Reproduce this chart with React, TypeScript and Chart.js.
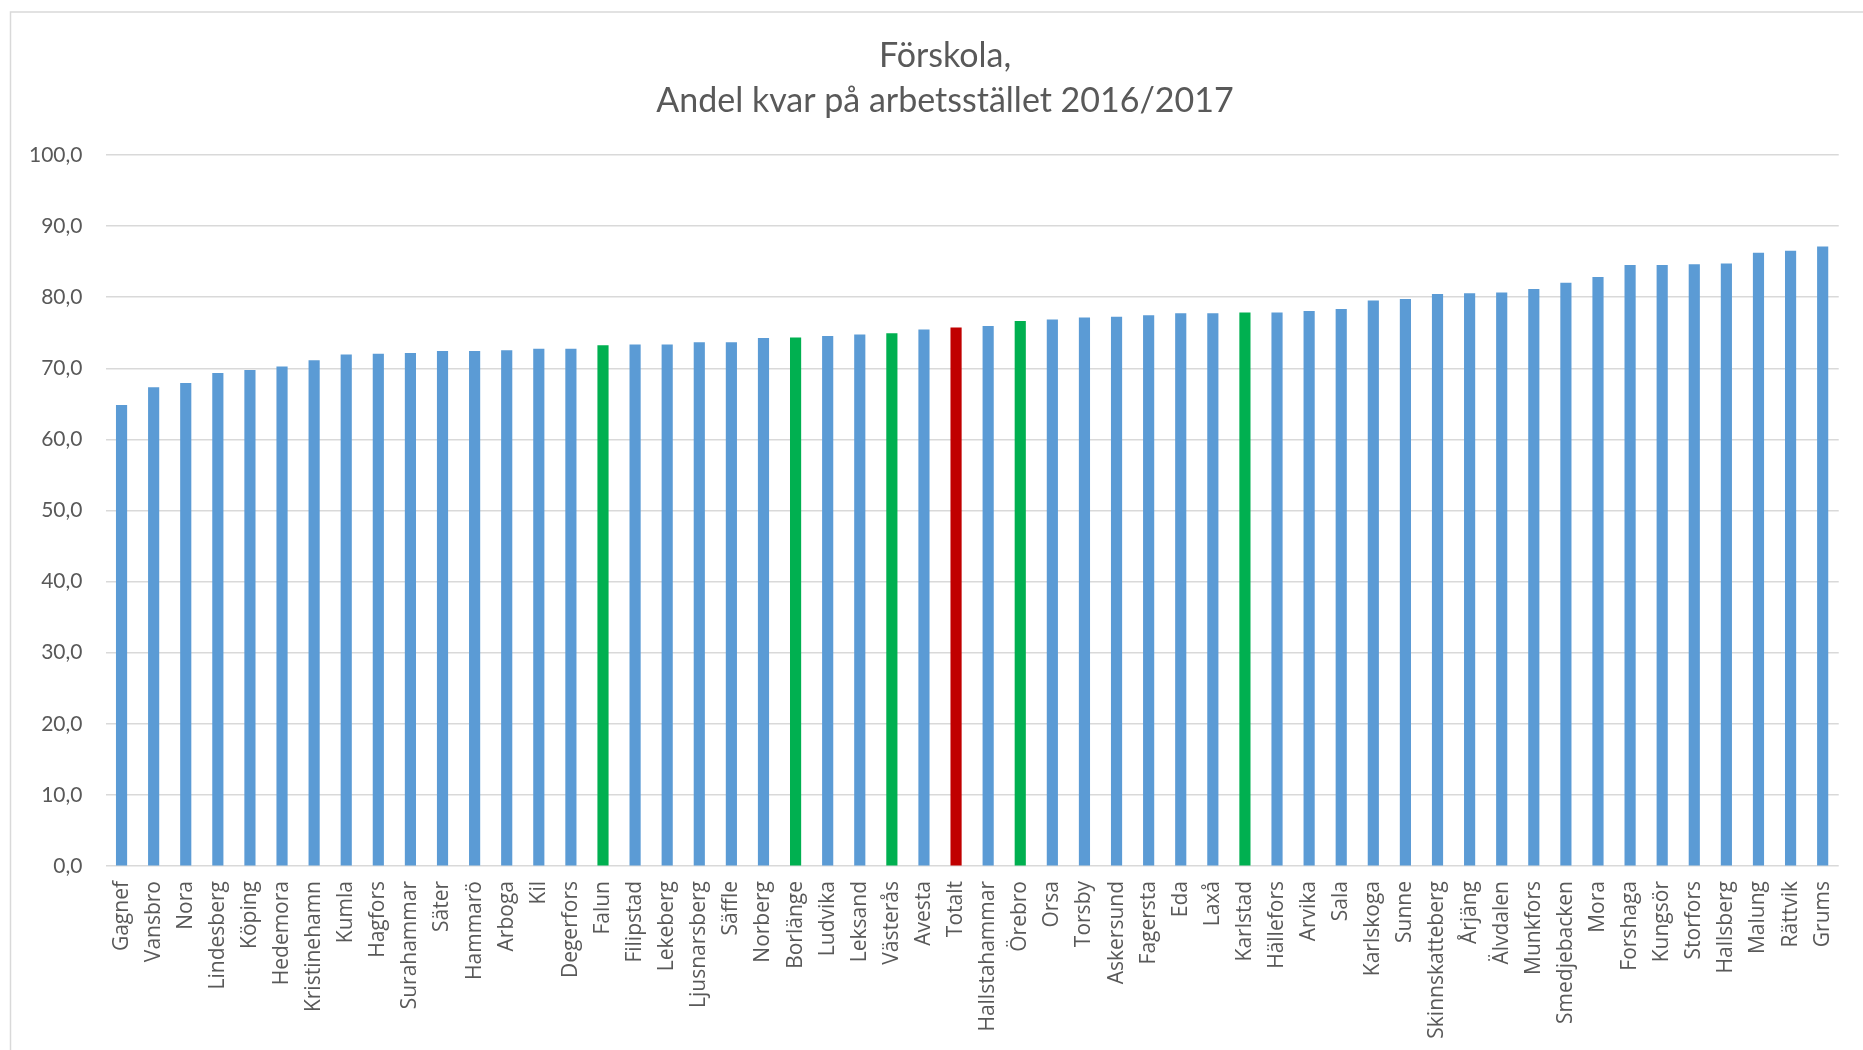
import React, { useEffect, useRef } from 'react';
import { Chart, registerables } from 'chart.js';

Chart.register(...registerables);

// Chart heading, drawn as two centred lines
const titleLines = ['Förskola,', 'Andel kvar på arbetsstället 2016/2017'];

// Municipalities, sorted by share of staff remaining at the workplace
const kommuner = [
  'Gagnef', 'Vansbro', 'Nora', 'Lindesberg', 'Köping', 'Hedemora', 'Kristinehamn', 'Kumla', 'Hagfors',
  'Surahammar', 'Säter', 'Hammarö', 'Arboga', 'Kil', 'Degerfors', 'Falun', 'Filipstad', 'Lekeberg',
  'Ljusnarsberg', 'Säffle', 'Norberg', 'Borlänge', 'Ludvika', 'Leksand', 'Västerås', 'Avesta', 'Totalt',
  'Hallstahammar', 'Örebro', 'Orsa', 'Torsby', 'Askersund', 'Fagersta', 'Eda', 'Laxå', 'Karlstad',
  'Hällefors', 'Arvika', 'Sala', 'Karlskoga', 'Sunne', 'Skinnskatteberg', 'Årjäng', 'Älvdalen', 'Munkfors',
  'Smedjebacken', 'Mora', 'Forshaga', 'Kungsör', 'Storfors', 'Hallsberg', 'Malung', 'Rättvik', 'Grums',
];

// Share (%) remaining at the workplace 2016/2017
const andelKvar = [
  64.8, 67.3, 67.9, 69.3, 69.7, 70.2, 71.1, 71.9, 72.0,
  72.1, 72.4, 72.4, 72.5, 72.7, 72.7, 73.2, 73.3, 73.3,
  73.6, 73.6, 74.2, 74.3, 74.5, 74.7, 74.9, 75.4, 75.7,
  75.9, 76.6, 76.8, 77.1, 77.2, 77.4, 77.7, 77.7, 77.8,
  77.8, 78.0, 78.3, 79.5, 79.7, 80.4, 80.5, 80.6, 81.1,
  82.0, 82.8, 84.5, 84.5, 84.6, 84.7, 86.2, 86.5, 87.1,
];

// Highlighted categories
const markeradeKommuner = ['Falun', 'Borlänge', 'Västerås', 'Örebro', 'Karlstad'];
const totalKategori = 'Totalt';

// Value axis range
const yMin = 0;
const yMax = 100;
const yStep = 10;

const BLUE = '#5b9bd5';
const GREEN = '#00b050';
const RED = '#c00000';
const TEXT = '#595959';
const GRID = '#d9d9d9';

const barColors = kommuner.map((k) =>
  k === totalKategori ? RED : markeradeKommuner.includes(k) ? GREEN : BLUE
);

const framePlugin = {
  id: 'frame',
  beforeDraw(chart: any) {
    const ctx = chart.ctx;
    ctx.save();
    ctx.fillStyle = '#ffffff';
    ctx.fillRect(0, 0, chart.width, chart.height);
    ctx.strokeStyle = GRID;
    ctx.lineWidth = 1.5;
    ctx.strokeRect(10.5, 12, chart.width + 200, chart.height + 200);
    ctx.restore();
  },
};

const headingPlugin = {
  id: 'heading',
  afterDraw(chart: any) {
    const ctx = chart.ctx;
    ctx.save();
    ctx.fillStyle = TEXT;
    ctx.font = '34px Lato';
    ctx.textAlign = 'center';
    ctx.textBaseline = 'middle';
    ctx.fillText(titleLines[0], 945, 56);
    ctx.fillText(titleLines[1], 945, 101);
    ctx.restore();
  },
};

export default function App() {
  const canvasRef = useRef<HTMLCanvasElement | null>(null);

  useEffect(() => {
    if (!canvasRef.current) return;
    const chart = new Chart(canvasRef.current, {
      type: 'bar',
      data: {
        labels: kommuner,
        datasets: [
          {
            data: andelKvar,
            backgroundColor: barColors,
            barThickness: 10.5,
          },
        ],
      },
      options: {
        responsive: false,
        animation: false,
        layout: { padding: { top: 155, right: 14, bottom: 0, left: 0 } },
        plugins: {
          legend: { display: false },
          title: { display: false },
          tooltip: { enabled: false },
        },
        scales: {
          x: {
            grid: { display: false, drawTicks: false },
            border: { display: false },
            ticks: {
              autoSkip: false,
              minRotation: 90,
              maxRotation: 90,
              padding: 15,
              color: TEXT,
              font: { family: 'Open Sans', size: 21 },
            },
            afterFit: (s: any) => {
              s.height = 184;
            },
          },
          y: {
            min: yMin,
            max: yMax,
            border: { display: false },
            grid: { color: GRID, lineWidth: 1.5, drawTicks: false },
            ticks: {
              stepSize: yStep,
              padding: 23,
              color: TEXT,
              font: { family: 'Lato', size: 21 },
              callback: (v: any) => Number(v).toFixed(1).replace('.', ','),
            },
            afterFit: (s: any) => {
              s.width = 105.5;
            },
          },
        },
      },
      plugins: [framePlugin, headingPlugin],
    });
    return () => chart.destroy();
  }, []);

  return (
    <div style={{ position: 'fixed', left: 0, top: 0, width: 1863, height: 1050, overflow: 'hidden', background: '#fff' }}>
      <canvas ref={canvasRef} width={1863} height={1050} style={{ display: 'block' }} />
    </div>
  );
}
